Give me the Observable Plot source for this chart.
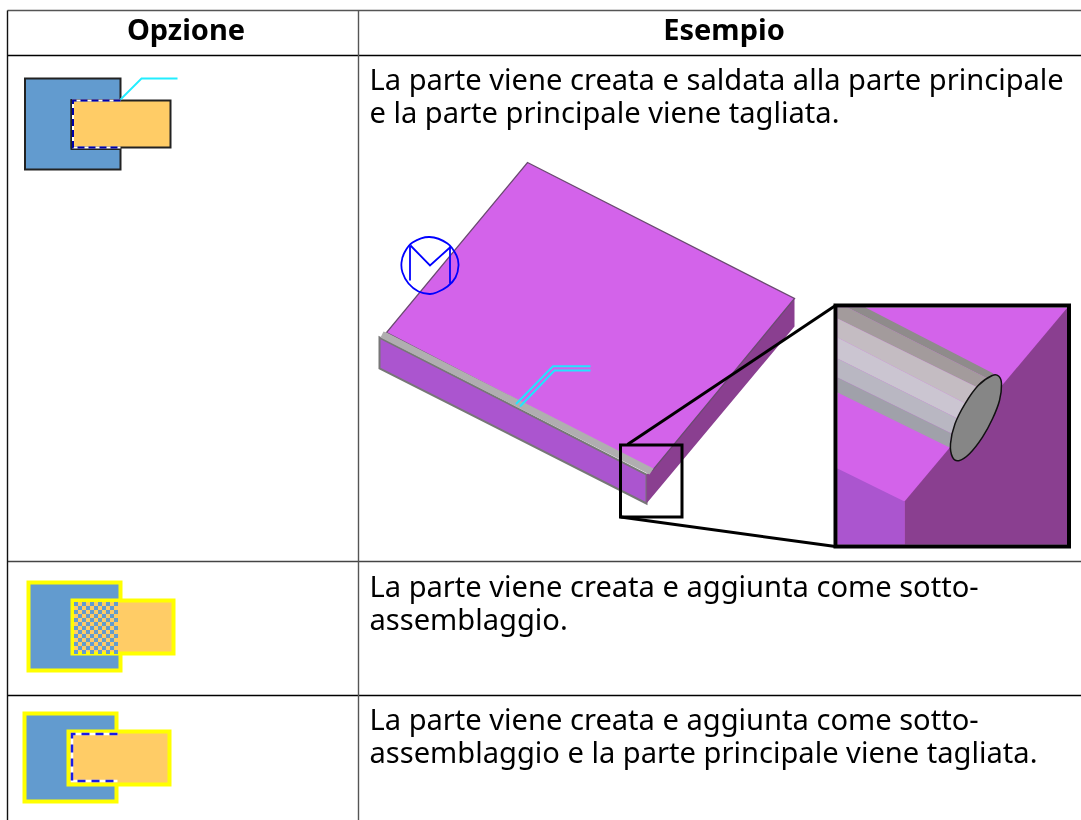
<!DOCTYPE html>
<html lang="it">
<head>
<meta charset="utf-8">
<title>Opzione / Esempio</title>
<script src="https://cdn.jsdelivr.net/npm/d3@7"></script>
<script src="https://cdn.jsdelivr.net/npm/@observablehq/plot@0.6"></script>
<style>
html,body{margin:0;padding:0;background:#fff}
svg{display:block;filter:blur(0.35px)}
</style>
</head>
<body>
<div id="chart"></div>
<script>
// ---- Texts
const headers = [["Opzione",185.5],["Esempio",723.5]];
const bodyLines = [
  ["La parte viene creata e saldata alla parte principale",89],
  ["e la parte principale viene tagliata.",122],
  ["La parte viene creata e aggiunta come sotto-",596],
  ["assemblaggio.",629],
  ["La parte viene creata e aggiunta come sotto-",729],
  ["assemblaggio e la parte principale viene tagliata.",762]
];
// ---- Table rules
const ruleTop=[[7,10],[1081,10]], ruleHead=[[7,55],[1081,55]], ruleRow1=[[7,561],[1081,561]], ruleRow2=[[7,695],[1081,695]];
const ruleLeft=[[7,10],[7,820]], ruleCol=[[358,10],[358,820]];
// ---- Icon 1
const i1Blue=[[24.5,78],[120,78],[120,99.5],[71,99.5],[71,148.5],[120,148.5],[120,169],[24.5,169]];
const i1Orange=[[71,100],[170,100],[170,147],[71,147]];
const i1Dash=[[120,100],[72.5,100],[72.5,147],[120,147]];
const i1Lead=[[120,99],[141,78],[177,78]];
// ---- Icon 2
const i2Blue=[[28,582],[120,582],[120,670],[28,670]];
const i2Yellow=[[72,600],[173,600],[173,653],[72,653]];
const i2Base=[[74,602],[118,602],[118,651],[74,651]];
const checkX=[74,82,90,98,106,114], checkY=[602,610,618,626,634,642,650];
// ---- Icon 3
const i3Blue=[[24,713],[116,713],[116,801],[24,801]];
const i3Yellow=[[68,731],[169,731],[169,784],[68,784]];
const i3Dash=[[117,733.5],[71.5,733.5],[71.5,780.5],[117,780.5]];
// ---- Plate
const plateTop=[[527,162],[794,298],[652,470],[386,332]];
const plateStrip=[[383,331],[386,332],[653,468],[649,474],[380,337]];
const plateFront=[[379,337],[646,474],[646,503],[379,368]];
const plateRight=[[646,474],[652,468],[794,298],[794,326],[646,503]];
const weldCircle=[[429,236.5],[447,243],[456,255],[458,265],[455,277],[447,286],[436,292],[429,293.5],[418,291],[408,283],[402,272],[401,262],[404,252],[412,242]];
const weldLeftBar=[[409.5,245],[409.5,280]];
const weldRightBar=[[449.5,246],[449.5,283]];
const weldV=[[410,245],[429.5,265],[450,246.5]];
const leadA=[[515.5,403.5],[552.5,365.7],[590,365.7]];
const leadB=[[519.5,406],[554,370],[590,370]];
// ---- Callout
const boxSmall=[[620,444.5],[681.5,444.5],[681.5,516.5],[620,516.5]];
const calloutUp=[[627,444],[835,305]];
const calloutDown=[[620,516.5],[835,546]];
const zoomBack=[[837,307],[1067,307],[1067,544],[837,544]];
const zoomRight=[[1067,307],[904,501],[904,544],[1067,544]];
const zoomFront=[[837,468],[904,501],[904,544],[837,544]];
const band1=[[865,307],[993,373],[987,378],[847,307]];
const band2=[[847,307],[987,378],[977,387],[837,318],[837,307]];
const band3=[[837,318],[977,387],[965,403],[837,337]];
const band4=[[837,337],[965,403],[957,418],[837,358]];
const band5=[[837,358],[957,418],[951,433],[837,377]];
const band6=[[837,377],[951,433],[949,447],[837,392]];
const weldEnd=[[991.7,375],[998.3,375.7],[1001,383.3],[999,400],[992,418.3],[982,436.7],[969,453.3],[958.3,460.2],[952,456.7],[950,443.3],[954.5,423.3],[964.5,403.3],[977.7,385]];
const boxBig=[[835,305],[1068.5,305],[1068.5,546],[835,546]];

const X=d=>d[0],Y=d=>d[1];
const poly=(p,fill,stroke="none",strokeWidth=1,extra={})=>Plot.line(p,{x:X,y:Y,fill,stroke,strokeWidth,curve:"linear-closed",strokeLinejoin:"miter",strokeMiterlimit:10,...extra});
const path=(p,stroke,strokeWidth=1,extra={})=>Plot.line(p,{x:X,y:Y,stroke,strokeWidth,strokeLinecap:"butt",strokeLinejoin:"miter",strokeMiterlimit:10,...extra});

const cfg={fontFamily:"'Noto Sans'",textAnchor:"start",lineAnchor:"bottom",fill:"#000"};
const checker=d3.cross(checkX,checkY).flatMap(([a,b])=>[{a,b},{a:a+4,b:b+4}]).filter(d=>d.a<118&&d.b<651);

const chart=Plot.plot({
  width:1081,height:820,
  margin:0,
  x:{domain:[0,1081],range:[0,1081],axis:null},
  y:{domain:[0,820],range:[0,820],axis:null},
  style:{background:"#fff"},
  marks:[
    path(ruleTop,"#555",1.5),path(ruleHead,"#000",1.4),path(ruleRow1,"#444",1.4),path(ruleRow2,"#000",1.4),
    path(ruleLeft,"#111",1.4),path(ruleCol,"#555",1.4),
    Plot.text(headers,{x:d=>d[1],y:()=>39,text:d=>d[0],...cfg,textAnchor:"middle",fontWeight:700,fontSize:29}),
    Plot.text(bodyLines,{x:()=>369,y:d=>d[1],text:d=>d[0],...cfg,fontSize:29.1}),
    // icon 1
    poly(i1Blue,"#629bcf","#222",2),
    poly(i1Orange,"#ffcc66","#222",2),
    path(i1Dash,"#fff",2),
    path(i1Dash,"#0000aa",2,{strokeDasharray:"7 4"}),
    path(i1Lead,"#22eeff",1.8),
    // icon 2
    poly(i2Blue,"#629bcf","#ffff00",4),
    poly(i2Yellow,"#ffcc66","#ffff00",4),
    poly(i2Base,"#ffcc66"),
    Plot.rect(checker,{x1:d=>d.a,x2:d=>d.a+4,y1:d=>d.b,y2:d=>d.b+4,fill:"#629bcf"}),
    // icon 3
    poly(i3Blue,"#629bcf","#ffff00",4),
    poly(i3Yellow,"#ffcc66","#ffff00",4),
    path(i3Dash,"#fff",2.5),
    path(i3Dash,"#1a1ae6",2.5,{strokeDasharray:"8 6"}),
    // plate
    poly(plateFront,"#ab55cf","#777",2),
    poly(plateRight,"#8a3f90"),
    poly(plateTop,"#d363ea","#6a4a70",1.3),
    poly(plateStrip,"#b0aeb0"),
    path(weldLeftBar,"#0000ff",1.8),path(weldRightBar,"#0000ff",1.8),path(weldV,"#0000ff",1.8),
    poly(weldCircle,"none","#0000ff",1.8,{curve:"cardinal-closed"}),
    path(leadA,"#22e5ff",2),path(leadB,"#22e5ff",2),
    // callout
    poly(boxSmall,"none","#000",3),
    path(calloutUp,"#000",3),path(calloutDown,"#000",3),
    poly(zoomBack,"#d363ea"),
    poly(zoomRight,"#8a3f90"),
    poly(zoomFront,"#ab55cf"),
    poly(band1,"#8f8b8b"),poly(band2,"#a39b9c"),poly(band3,"#c4bcc2"),poly(band4,"#cbc5d1"),poly(band5,"#b9b7c2"),poly(band6,"#a0a1aa"),
    poly(weldEnd,"#868686","#111",1.5,{curve:"cardinal-closed"}),
    poly(boxBig,"none","#000",4)
  ]
});
document.getElementById("chart").append(chart);
</script>
</body>
</html>
